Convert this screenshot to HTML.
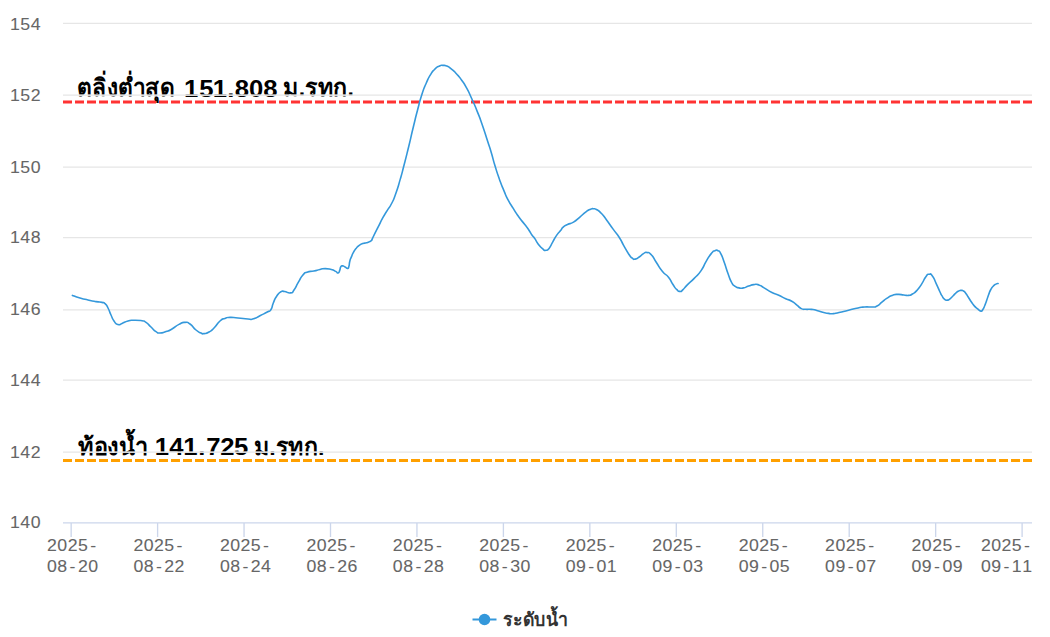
<!DOCTYPE html>
<html><head><meta charset="utf-8"><title>chart</title>
<style>
html,body{margin:0;padding:0;background:#fff;}
body{width:1050px;height:637px;overflow:hidden;font-family:"Liberation Sans",sans-serif;}
svg{display:block;}
text{font-family:"Liberation Sans",sans-serif;}
.ax{font-size:16.4px;fill:#666666;stroke:#666666;stroke-width:0.08;}
.lb{font-size:24px;font-weight:bold;fill:#000000;}
</style></head><body>
<svg width="1050" height="637" viewBox="0 0 1050 637">
<rect x="0" y="0" width="1050" height="637" fill="#ffffff"/>
<path d="M63 102.0L1032 102.0" stroke="#ff3333" stroke-width="3" stroke-dasharray="9,3" fill="none"/>
<path d="M63 460.4L1032 460.4" stroke="#ffa000" stroke-width="3" stroke-dasharray="9,3" fill="none"/>
<g>
<text class="lb" x="77.3" y="95.75" text-anchor="start" textLength="97.5" lengthAdjust="spacingAndGlyphs">ตลิ่งต่ำสุด</text>
<g transform="scale(1.07 1)"><text class="lb" x="172.06 186.19 198.79 212.47 219.34 232.74 246.03" y="96.8" text-anchor="start">151.808</text></g>
<text class="lb" x="283.2" y="95.75" text-anchor="start" textLength="70.8" lengthAdjust="spacingAndGlyphs">ม.รทก.</text>
<text class="lb" x="77.9" y="455.0" text-anchor="start" textLength="69.6" lengthAdjust="spacingAndGlyphs">ท้องน้ำ</text>
<g transform="scale(1.07 1)"><text class="lb" x="144.68 158.21 171.18 185.18 192.82 205.77 218.66" y="455.4" text-anchor="start">141.725</text></g>
<text class="lb" x="253.7" y="455.0" text-anchor="start" textLength="70.8" lengthAdjust="spacingAndGlyphs">ม.รทก.</text>
</g>
<rect x="76" y="94.70" width="284" height="1.0" fill="#ffffff"/>
<rect x="76" y="451.70" width="284" height="1.0" fill="#ffffff"/>
<path d="M63 23.3L1032 23.3M63 95.2L1032 95.2M63 167.2L1032 167.2M63 237.7L1032 237.7M63 309.8L1032 309.8M63 380.2L1032 380.2M63 452.2L1032 452.2" stroke="#e6e6e6" stroke-width="1.33" fill="none"/>
<path d="M63 522.8L1032 522.8M71.15 522.8L71.15 537.0M157.6 522.8L157.6 537.0M244.05 522.8L244.05 537.0M330.5 522.8L330.5 537.0M416.95 522.8L416.95 537.0M503.4 522.8L503.4 537.0M589.85 522.8L589.85 537.0M676.3 522.8L676.3 537.0M762.75 522.8L762.75 537.0M849.2 522.8L849.2 537.0M935.65 522.8L935.65 537.0M1022.1 522.8L1022.1 537.0" stroke="#ccd6eb" stroke-width="1.33" fill="none"/>
<path d="M72.4 295.4C74.9 296.3 74.8 296.5 80.0 298.0C85.2 299.5 82.7 298.8 88.0 300.0C93.3 301.2 91.3 300.8 96.0 301.6C100.7 302.4 99.0 301.7 102.0 302.4C105.0 303.1 103.0 301.7 105.0 303.6C107.0 305.5 106.0 304.2 108.0 308.0C110.0 311.8 109.0 310.7 111.0 315.0C113.0 319.3 111.7 317.8 114.0 321.0C116.3 324.2 115.3 323.8 118.0 324.6C120.7 325.4 118.7 324.6 122.0 323.4C125.3 322.2 124.0 322.1 128.0 321.0C132.0 319.9 129.3 320.3 134.0 320.2C138.7 320.1 138.0 320.1 142.0 320.8C146.0 321.5 143.0 320.3 146.0 322.4C149.0 324.5 147.7 323.9 151.0 327.0C154.3 330.1 153.0 329.6 156.0 331.6C159.0 333.6 156.7 333.0 160.0 333.0C163.3 333.0 162.0 332.9 166.0 331.6C170.0 330.3 167.7 331.4 172.0 329.0C176.3 326.6 174.7 326.6 179.0 324.4C183.3 322.2 181.3 322.5 185.0 322.4C188.7 322.3 186.3 321.5 190.0 324.0C193.7 326.5 192.3 327.0 196.0 330.0C199.7 333.0 198.3 331.8 201.0 333.0C203.7 334.2 201.3 333.9 204.0 333.6C206.7 333.3 205.7 333.9 209.0 332.0C212.3 330.1 210.3 331.7 214.0 328.0C217.7 324.3 216.3 324.2 220.0 321.0C223.7 317.8 221.7 319.6 225.0 318.4C228.3 317.2 225.7 317.5 230.0 317.4C234.3 317.3 232.0 317.5 238.0 318.0C244.0 318.5 242.8 318.7 248.0 319.0C253.2 319.3 249.4 320.0 253.5 318.8C257.6 317.6 255.8 317.8 260.4 315.5C265.0 313.2 263.8 314.0 267.3 312.0C270.8 310.0 269.0 312.5 271.0 309.5C273.0 306.5 271.4 307.5 273.3 303.0C275.2 298.5 274.2 299.7 276.8 296.0C279.4 292.3 278.4 293.3 281.0 291.8C283.6 290.3 281.3 291.1 284.5 291.5C287.7 291.9 287.4 293.4 290.6 292.9C293.8 292.4 291.4 293.6 294.0 290.0C296.6 286.4 295.5 287.1 298.4 282.2C301.3 277.3 299.8 278.6 302.7 275.3C305.6 272.0 303.3 273.6 307.0 272.2C310.7 270.8 309.6 271.9 313.9 271.0C318.2 270.1 316.2 270.3 320.0 269.5C323.8 268.7 321.5 268.6 325.3 268.6C329.1 268.6 327.8 268.6 331.3 269.5C334.8 270.4 333.4 270.2 335.7 271.4C338.0 272.6 336.8 273.4 338.2 273.0C339.6 272.6 339.0 272.1 339.8 270.1C340.6 268.1 339.8 268.4 340.7 267.0C341.6 265.6 341.1 265.9 342.6 265.9C344.1 265.9 343.4 266.2 345.1 267.0C346.8 267.8 346.3 268.6 347.6 268.4C348.9 268.2 348.2 268.8 348.9 266.4C349.6 264.0 349.0 264.5 349.8 261.3C350.6 258.1 350.2 259.8 351.4 256.9C352.6 254.0 351.8 255.3 353.3 252.6C354.8 249.9 353.9 251.1 355.8 248.8C357.7 246.5 356.6 247.3 358.9 245.6C361.2 243.9 360.2 244.5 362.7 243.6C365.2 242.7 364.2 243.5 366.5 242.8C368.8 242.1 367.8 242.5 369.6 241.6C371.4 240.7 370.8 241.2 371.8 240.0C372.8 238.8 370.6 242.2 372.6 238.1C374.6 234.0 374.3 234.6 377.8 227.7C381.3 220.8 379.8 223.2 383.0 217.4C386.2 211.6 384.4 215.0 387.3 210.4C390.2 205.8 388.7 209.2 391.6 203.5C394.5 197.8 393.0 201.2 395.9 193.2C398.8 185.2 397.5 188.7 400.2 179.4C402.9 170.1 401.2 176.1 404.0 165.3C406.8 154.5 405.5 159.6 408.6 147.0C411.7 134.4 410.2 139.7 413.2 127.5C416.2 115.3 414.6 121.2 417.5 110.3C420.4 99.4 418.9 103.6 421.8 94.7C424.7 85.8 423.2 90.1 426.1 83.5C429.0 76.9 427.5 79.7 430.4 74.9C433.3 70.1 431.9 72.1 434.8 69.2C437.7 66.3 436.4 67.5 439.1 66.2C441.8 64.9 440.3 65.4 442.9 65.4C445.5 65.4 444.1 65.0 446.9 66.1C449.7 67.2 448.0 66.3 451.2 68.8C454.4 71.3 453.0 70.0 456.4 73.7C459.8 77.4 458.1 75.2 461.5 80.0C464.9 84.8 463.2 81.9 466.7 88.2C470.2 94.5 468.4 91.4 471.9 99.0C475.4 106.6 473.6 102.5 477.1 111.1C480.6 119.7 478.9 115.1 482.3 124.9C485.7 134.7 484.4 131.1 487.4 140.5C490.4 149.9 488.9 144.6 491.4 153.0C493.9 161.4 492.3 157.0 495.0 165.8C497.7 174.6 496.5 171.1 499.5 179.4C502.5 187.7 501.0 183.7 503.9 190.6C506.8 197.5 505.0 194.1 508.2 200.1C511.4 206.1 510.0 203.2 513.4 208.7C516.8 214.2 514.8 211.3 518.5 216.5C522.2 221.7 521.3 220.0 524.6 224.3C527.9 228.6 526.0 225.8 528.5 229.5C531.0 233.2 530.0 232.3 532.1 235.3C534.2 238.3 532.7 235.5 534.7 238.4C536.7 241.3 535.5 240.5 538.1 243.9C540.7 247.3 539.9 246.6 542.5 248.7C545.1 250.8 543.6 250.6 545.9 250.3C548.2 250.0 547.1 250.7 549.4 247.9C551.7 245.1 550.2 246.2 552.8 241.8C555.4 237.4 554.5 238.3 557.1 234.6C559.7 230.9 558.6 233.1 560.6 230.6C562.6 228.1 560.9 229.1 563.2 227.1C565.5 225.1 564.1 226.2 567.5 224.5C570.9 222.8 569.5 224.5 573.5 222.1C577.5 219.7 575.6 220.6 579.6 217.3C583.6 214.0 582.2 214.7 585.6 212.1C589.0 209.5 587.3 210.7 589.9 209.6C592.5 208.5 591.1 208.6 593.4 208.7C595.7 208.8 594.3 208.3 596.9 209.8C599.5 211.3 598.0 210.0 601.2 213.3C604.4 216.6 602.4 214.3 606.4 219.7C610.4 225.1 609.0 223.5 613.3 229.4C617.6 235.3 615.9 232.2 619.3 237.5C622.7 242.8 620.4 239.7 623.6 245.3C626.8 250.9 625.9 249.9 628.8 254.2C631.7 258.5 630.2 256.6 632.3 258.2C634.4 259.8 632.9 259.5 635.2 259.1C637.5 258.7 636.4 258.8 639.2 257.0C642.0 255.2 640.9 255.1 643.5 253.6C646.1 252.1 644.3 252.1 646.9 252.5C649.5 252.9 648.1 251.5 651.3 254.8C654.5 258.1 652.7 256.9 656.4 262.5C660.1 268.1 658.5 266.6 662.5 271.5C666.5 276.4 665.1 272.9 668.5 277.2C671.9 281.5 670.1 280.2 672.8 284.3C675.5 288.4 674.2 287.0 676.6 289.4C679.0 291.8 677.9 291.3 680.0 291.4C682.1 291.5 680.6 291.8 683.0 289.6C685.4 287.4 683.6 288.6 687.3 284.9C691.0 281.2 689.6 283.2 694.2 278.4C698.8 273.6 697.1 276.4 701.1 270.6C705.1 264.8 702.8 266.9 706.3 261.1C709.8 255.3 708.6 256.8 711.5 253.3C714.4 249.8 712.7 251.6 714.9 250.7C717.1 249.8 716.0 249.7 718.0 250.7C720.0 251.7 718.8 249.8 720.9 253.8C723.0 257.8 722.1 256.3 724.4 262.8C726.7 269.3 725.6 266.9 727.9 273.2C730.2 279.5 729.0 277.5 731.3 281.8C733.6 286.1 732.2 284.1 734.8 286.1C737.4 288.1 736.2 287.3 739.1 287.9C742.0 288.5 740.2 288.5 743.4 287.9C746.6 287.3 745.1 287.2 748.6 286.1C752.1 285.0 750.4 285.0 753.8 284.6C757.2 284.2 755.5 283.8 758.9 284.9C762.3 286.0 759.8 285.4 764.1 287.9C768.4 290.4 767.0 290.0 771.9 292.5C776.8 295.0 774.2 293.2 778.8 295.3C783.4 297.4 781.4 296.7 785.7 298.7C790.0 300.7 788.1 299.1 791.8 301.2C795.5 303.3 793.7 302.6 796.9 305.1C800.1 307.6 798.4 307.2 801.3 308.6C804.2 310.0 802.2 309.0 805.6 309.3C809.0 309.6 807.9 309.0 811.6 309.4C815.3 309.8 812.8 309.4 816.8 310.5C820.8 311.6 819.8 311.6 823.7 312.6C827.6 313.6 825.6 313.0 828.5 313.4C831.4 313.8 828.9 314.0 832.4 313.7C835.9 313.4 833.6 313.7 839.0 312.5C844.4 311.3 842.2 311.7 848.6 310.2C855.0 308.7 852.7 309.1 858.1 308.0C863.5 306.9 860.0 307.3 864.8 307.0C869.6 306.7 868.3 307.3 872.4 307.0C876.5 306.7 873.9 307.6 877.1 306.0C880.3 304.4 878.7 304.7 881.9 302.2C885.1 299.7 883.2 300.7 886.7 298.4C890.2 296.1 888.6 296.7 892.4 295.4C896.2 294.1 894.3 294.5 898.1 294.4C901.9 294.3 900.3 294.7 903.8 295.0C907.3 295.3 905.7 295.7 908.6 295.4C911.5 295.1 909.6 295.7 912.4 294.0C915.2 292.3 913.9 293.7 917.1 290.2C920.3 286.7 919.0 288.0 921.9 283.6C924.8 279.2 923.3 280.0 925.7 276.9C928.1 273.8 926.8 274.5 929.0 274.2C931.2 273.9 930.0 272.9 932.4 276.0C934.8 279.1 933.7 278.3 936.2 283.6C938.7 288.9 938.1 288.0 940.0 292.0C941.9 296.0 940.4 293.3 941.9 295.7C943.4 298.1 942.6 297.7 944.4 299.2C946.2 300.7 945.3 300.2 947.2 300.1C949.1 300.0 948.0 300.4 950.0 298.9C952.0 297.4 951.1 297.8 953.2 295.7C955.3 293.6 954.4 294.2 956.3 292.6C958.2 291.0 957.1 291.6 958.8 290.9C960.5 290.2 959.7 290.4 961.3 290.4C962.9 290.4 962.0 290.1 963.5 291.0C965.0 291.9 964.1 291.2 965.7 293.2C967.3 295.2 966.3 294.1 968.2 297.0C970.1 299.9 969.3 299.0 971.4 302.0C973.5 305.0 972.4 303.8 974.5 306.1C976.6 308.4 975.6 307.2 977.7 308.9C979.8 310.6 979.0 311.0 980.8 311.1C982.6 311.2 981.6 311.3 983.0 309.3C984.4 307.3 983.6 308.3 984.9 305.2C986.2 302.1 985.6 303.6 986.8 300.1C988.0 296.6 987.3 298.3 988.6 294.8C989.9 291.3 989.2 292.4 990.8 289.5C992.4 286.6 991.7 287.8 993.4 286.0C995.1 284.2 994.3 284.9 995.9 284.1C997.5 283.3 997.4 283.7 998.1 283.5" stroke="#3498db" stroke-width="1.6" stroke-linejoin="round" stroke-linecap="round" fill="none"/>
<g transform="scale(1.08 1)"><text class="ax" x="13.89 23.41 32.93" y="29.75" text-anchor="middle">154</text></g>
<g transform="scale(1.08 1)"><text class="ax" x="13.89 23.41 32.93" y="100.75" text-anchor="middle">152</text></g>
<g transform="scale(1.08 1)"><text class="ax" x="13.89 23.41 32.93" y="172.75" text-anchor="middle">150</text></g>
<g transform="scale(1.08 1)"><text class="ax" x="13.89 23.41 32.93" y="242.75" text-anchor="middle">148</text></g>
<g transform="scale(1.08 1)"><text class="ax" x="13.89 23.41 32.93" y="314.75" text-anchor="middle">146</text></g>
<g transform="scale(1.08 1)"><text class="ax" x="13.89 23.41 32.93" y="385.75" text-anchor="middle">144</text></g>
<g transform="scale(1.08 1)"><text class="ax" x="13.89 23.41 32.93" y="457.75" text-anchor="middle">142</text></g>
<g transform="scale(1.08 1)"><text class="ax" x="13.89 23.41 32.93" y="527.75" text-anchor="middle">140</text></g>
<g transform="scale(1.08 1)"><text class="ax" x="48.14 57.66 67.18 76.69 86.21" y="550.8" text-anchor="middle">2025-</text></g>
<g transform="scale(1.08 1)"><text class="ax" x="48.14 57.66 67.18 76.69 86.21" y="571.7" text-anchor="middle">08-20</text></g>
<g transform="scale(1.08 1)"><text class="ax" x="128.19 137.70 147.22 156.74 166.26" y="550.8" text-anchor="middle">2025-</text></g>
<g transform="scale(1.08 1)"><text class="ax" x="128.19 137.70 147.22 156.74 166.26" y="571.7" text-anchor="middle">08-22</text></g>
<g transform="scale(1.08 1)"><text class="ax" x="208.23 217.75 227.27 236.79 246.31" y="550.8" text-anchor="middle">2025-</text></g>
<g transform="scale(1.08 1)"><text class="ax" x="208.23 217.75 227.27 236.79 246.31" y="571.7" text-anchor="middle">08-24</text></g>
<g transform="scale(1.08 1)"><text class="ax" x="288.28 297.80 307.31 316.83 326.35" y="550.8" text-anchor="middle">2025-</text></g>
<g transform="scale(1.08 1)"><text class="ax" x="288.28 297.80 307.31 316.83 326.35" y="571.7" text-anchor="middle">08-26</text></g>
<g transform="scale(1.08 1)"><text class="ax" x="368.32 377.84 387.36 396.88 406.40" y="550.8" text-anchor="middle">2025-</text></g>
<g transform="scale(1.08 1)"><text class="ax" x="368.32 377.84 387.36 396.88 406.40" y="571.7" text-anchor="middle">08-28</text></g>
<g transform="scale(1.08 1)"><text class="ax" x="448.37 457.89 467.41 476.93 486.44" y="550.8" text-anchor="middle">2025-</text></g>
<g transform="scale(1.08 1)"><text class="ax" x="448.37 457.89 467.41 476.93 486.44" y="571.7" text-anchor="middle">08-30</text></g>
<g transform="scale(1.08 1)"><text class="ax" x="528.42 537.94 547.45 556.97 566.49" y="550.8" text-anchor="middle">2025-</text></g>
<g transform="scale(1.08 1)"><text class="ax" x="528.42 537.94 547.45 556.97 566.49" y="571.7" text-anchor="middle">09-01</text></g>
<g transform="scale(1.08 1)"><text class="ax" x="608.46 617.98 627.50 637.02 646.54" y="550.8" text-anchor="middle">2025-</text></g>
<g transform="scale(1.08 1)"><text class="ax" x="608.46 617.98 627.50 637.02 646.54" y="571.7" text-anchor="middle">09-03</text></g>
<g transform="scale(1.08 1)"><text class="ax" x="688.51 698.03 707.55 717.06 726.58" y="550.8" text-anchor="middle">2025-</text></g>
<g transform="scale(1.08 1)"><text class="ax" x="688.51 698.03 707.55 717.06 726.58" y="571.7" text-anchor="middle">09-05</text></g>
<g transform="scale(1.08 1)"><text class="ax" x="768.56 778.07 787.59 797.11 806.63" y="550.8" text-anchor="middle">2025-</text></g>
<g transform="scale(1.08 1)"><text class="ax" x="768.56 778.07 787.59 797.11 806.63" y="571.7" text-anchor="middle">09-07</text></g>
<g transform="scale(1.08 1)"><text class="ax" x="848.60 858.12 867.64 877.16 886.68" y="550.8" text-anchor="middle">2025-</text></g>
<g transform="scale(1.08 1)"><text class="ax" x="848.60 858.12 867.64 877.16 886.68" y="571.7" text-anchor="middle">09-09</text></g>
<g transform="scale(1.08 1)"><text class="ax" x="912.91 922.43 931.94 941.46 950.98" y="550.8" text-anchor="middle">2025-</text></g>
<g transform="scale(1.08 1)"><text class="ax" x="912.91 922.43 931.94 941.46 950.98" y="571.7" text-anchor="middle">09-11</text></g>
<path d="M472.5 619.5L496.5 619.5" stroke="#3498db" stroke-width="2" fill="none"/>
<circle cx="484.5" cy="619.5" r="5.8" fill="#3498db"/>
<text x="503.3" y="625.6" font-size="18.25" font-weight="bold" fill="#333333" text-anchor="start" textLength="64" lengthAdjust="spacingAndGlyphs">ระดับน้ำ</text>
</svg>
</body></html>
